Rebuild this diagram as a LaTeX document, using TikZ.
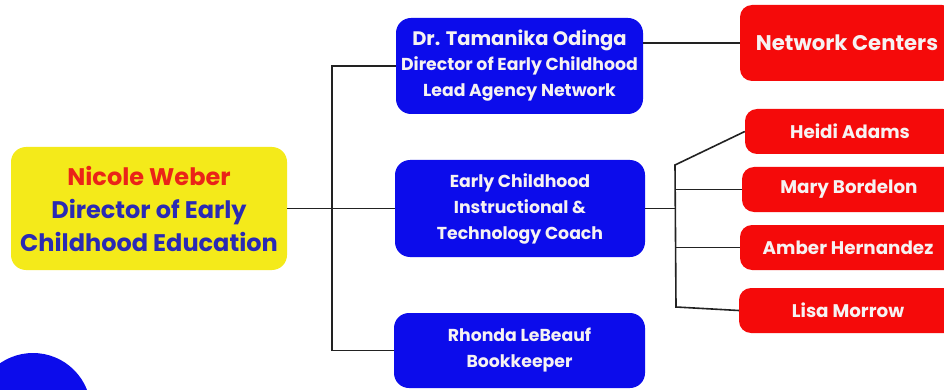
\documentclass[tikz,border=0pt]{standalone}
\usepackage{fontspec}
\setmainfont{Poppins}
\definecolor{bblue}{HTML}{0C0CEB}
\definecolor{rred}{HTML}{F50A0A}
\definecolor{yyel}{HTML}{F4EA1A}
\definecolor{ttblue}{HTML}{2A2AB4}
\definecolor{ttred}{HTML}{EA2418}
\definecolor{lnk}{HTML}{222222}
\definecolor{wt}{HTML}{F6F2F2}
\begin{document}
\begin{tikzpicture}[x=1pt,y=-1pt,
  ybox/.style={fill=yyel,rounded corners=15pt,align=center,inner sep=0pt,font=\bfseries\fontsize{24}{33}\selectfont},
  bbox/.style={fill=bblue,rounded corners=15pt,align=center,inner sep=0pt,text=wt,font=\bfseries\fontsize{17.3}{26}\selectfont},
  rbox/.style={fill=rred,rounded corners=12pt,align=center,inner sep=0pt,text=wt,font=\bfseries\fontsize{18.3}{22}\selectfont},
  conn/.style={draw=lnk,line width=1.6pt}]
\useasboundingbox (0,0) rectangle (944,390);
\fill[white] (0,0) rectangle (944,390);
\fill[bblue] (33,411) circle (58pt);
% nodes
\node[ybox,minimum width=276pt,minimum height=123pt] (nw) at (149,208.5)
  {\textcolor{ttred}{Nicole Weber}\\\textcolor{ttblue}{Director of Early}\\\textcolor{ttblue}{Childhood Education}};
\node[bbox,minimum width=247pt,minimum height=96pt] (odinga) at (519.5,66)
  {{\fontsize{19.5}{25}\selectfont Dr. Tamanika Odinga}\\[-1pt]Director of Early Childhood\\Lead Agency Network};
\node[bbox,minimum width=250pt,minimum height=97pt] (coach) at (520,208.5)
  {Early Childhood\\Instructional \&\\Technology Coach};
\node[bbox,minimum width=251pt,minimum height=75pt] (rhonda) at (519.5,350.5)
  {Rhonda LeBeauf\\Bookkeeper};
\node[rbox,minimum width=214pt,minimum height=76pt,font=\bfseries\fontsize{21.2}{24}\selectfont] (net) at (847,43) {Network Centers};
\node[rbox,minimum width=210pt,minimum height=45pt] (heidi) at (850,131.5) {Heidi Adams};
\node[rbox,minimum width=214pt,minimum height=45pt] (mary) at (849,189.5) {Mary Bordelon};
\node[rbox,minimum width=216pt,minimum height=45pt] (amber) at (848,247.5) {Amber Hernandez};
\node[rbox,minimum width=218pt,minimum height=45pt] (lisa) at (848,310.5) {Lisa Morrow};
% connectors
\coordinate (j1) at (332,212);
\coordinate (t2) at (675,165);
\coordinate (b2) at (676,307);
\draw[conn] (nw.east) -- (coach.west);
\draw[conn] (odinga.west) -- (odinga.west -| j1) -- (rhonda.west -| j1) -- (rhonda.west);
\draw[conn] (odinga.east |- net.west) -- (net.west);
\draw[conn] (coach.east) -- (coach.east -| t2);
\draw[conn] (heidi.west) -- (t2) -- (b2) -- (lisa.west);
\draw[conn] (mary.west -| t2) -- (mary.west);
\draw[conn] (amber.west -| t2) -- (amber.west);
\end{tikzpicture}
\end{document}
